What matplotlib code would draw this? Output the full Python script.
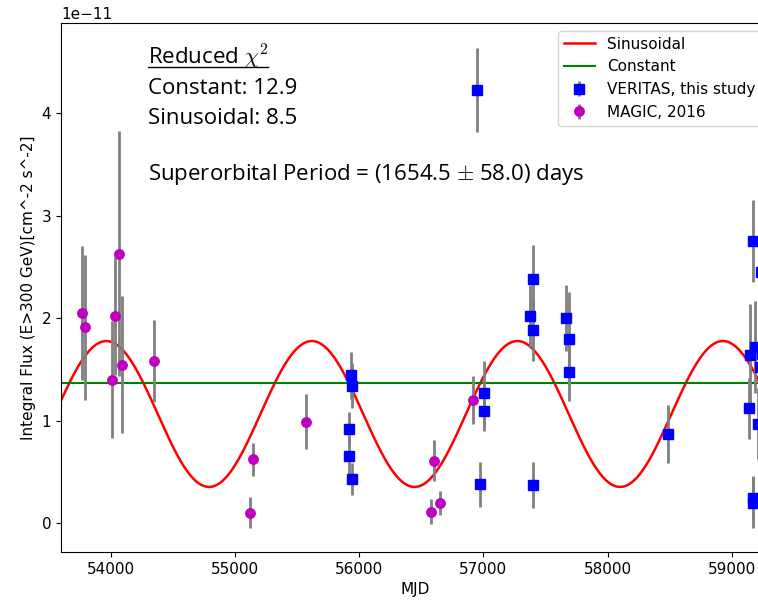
import numpy as np
import matplotlib.pyplot as plt
from matplotlib.lines import Line2D

# Light curve points (flux in units of 1e-11 cm^-2 s^-1)
veritas_mjd = [55916, 55916, 55935, 55940, 55943, 56948, 56975, 57004, 57004,
               57374, 57398, 57398, 57400, 57663, 57690, 57690, 58488,
               59141, 59147, 59171, 59171, 59175, 59187, 59211, 59225, 59235, 59240]
veritas_flux = [0.92, 0.65, 1.44, 1.34, 0.43, 4.23, 0.38, 1.265, 1.09,
                2.02, 0.375, 2.38, 1.88, 2.00, 1.80, 1.47, 0.87,
                1.12, 1.64, 2.75, 0.24, 0.20, 1.72, 0.97, 1.52, 2.45, 1.65]
veritas_err = [0.16, 0.18, 0.23, 0.22, 0.16, 0.41, 0.22, 0.32, 0.19,
               0.30, 0.225, 0.33, 0.30, 0.32, 0.45, 0.28, 0.28,
               0.30, 0.50, 0.40, 0.22, 0.25, 0.45, 0.35, 0.40, 0.45, 0.40]

magic_mjd = [53767, 53797, 54008, 54038, 54064, 54088, 54348,
             55123, 55147, 55576, 56580, 56605, 56653, 56913]
magic_flux = [2.05, 1.91, 1.40, 2.02, 2.63, 1.545, 1.58,
              0.10, 0.62, 0.99, 0.11, 0.61, 0.195, 1.20]
magic_err = [0.65, 0.71, 0.57, 0.58, 1.20, 0.67, 0.40,
             0.15, 0.16, 0.27, 0.12, 0.20, 0.12, 0.235]

# Fit results
const_level = 1.366
sin_amp = 0.712
sin_offset = 1.064
period = 1654.5
period_err = 58.0
t_peak = 53965
chi2_const = 12.9
chi2_sin = 8.5

scale = 1e-11

plt.rcParams['mathtext.fontset'] = 'cm'

fig = plt.figure(figsize=(7.58, 6.03), dpi=100)
ax = fig.add_axes([61 / 758, 51 / 603, (769 - 61) / 758, 529 / 603])

t = np.linspace(53600, 59400, 2000)
model = sin_amp * np.cos(2 * np.pi * (t - t_peak) / period) + sin_offset
ax.plot(t, model * scale, color='red', lw=1.8, label='Sinusoidal')
ax.axhline(const_level * scale, color='green', lw=1.5, label='Constant')

ax.errorbar(veritas_mjd, np.array(veritas_flux) * scale, yerr=np.array(veritas_err) * scale,
            fmt='s', color='blue', ms=7.7, ecolor='gray', elinewidth=2,
            label='VERITAS, this study')
ax.errorbar(magic_mjd, np.array(magic_flux) * scale, yerr=np.array(magic_err) * scale,
            fmt='o', color='m', ms=6.8, ecolor='gray', elinewidth=2,
            label='MAGIC, 2016')

ax.set_xlim(53600, 59300)
ax.set_ylim(-0.283 * scale, 4.88 * scale)
ax.set_xticks([54000, 55000, 56000, 57000, 58000, 59000])
ax.tick_params(labelsize=11)
ax.yaxis.get_offset_text().set_fontsize(11)
ax.set_xlabel('MJD', fontsize=11)
ax.set_ylabel('Integral Flux (E>300 GeV)[cm^-2 s^-2]', fontsize=11)
ax.legend(loc='upper right', fontsize=11)

tx = 0.123
fs = 16
font = 'Open Sans'
title_txt = ax.text(tx, 0.921, r'Reduced $\chi^2$', transform=ax.transAxes,
                    fontsize=fs, family=font, va='baseline')
ax.text(tx, 0.865, 'Constant: %.1f' % chi2_const, transform=ax.transAxes,
        fontsize=fs, family=font, va='baseline')
ax.text(tx, 0.810, 'Sinusoidal: %.1f' % chi2_sin, transform=ax.transAxes,
        fontsize=fs, family=font, va='baseline')
ax.text(tx, 0.703, r'Superorbital Period = (%.1f $\pm$ %.1f) days' % (period, period_err),
        transform=ax.transAxes, fontsize=fs, family=font, va='baseline')

# underline the chi^2 heading just under its baseline
fig.canvas.draw()
bb = title_txt.get_window_extent()
base_y = ax.transAxes.transform((tx, 0.921))[1]
y_line = base_y - 2
fig.add_artist(Line2D([bb.x0, bb.x1], [y_line, y_line], transform=None,
                      color='black', lw=1.0))

fig.savefig('out.png', dpi=100)
